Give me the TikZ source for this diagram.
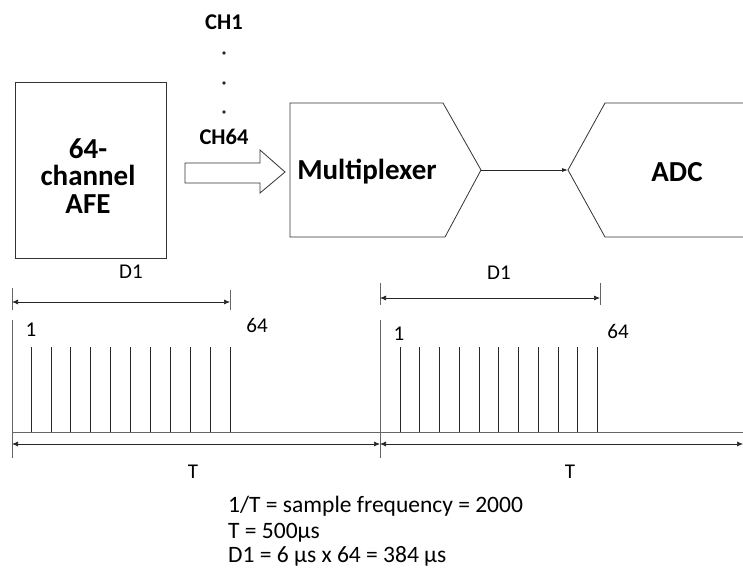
\documentclass[tikz,border=0pt]{standalone}
\usepackage{fontspec}
\setmainfont{Carlito}
\usetikzlibrary{arrows.meta, positioning, calc}

\begin{document}
\begin{tikzpicture}[
    x=1pt, y=-1pt,
    block/.style={draw=black!80, line width=0.8pt},
    blocktext/.style={font=\fontsize{29}{27.5}\selectfont\bfseries, align=center},
    chan/.style={font=\fontsize{22.5}{24}\selectfont\bfseries},
    lbl/.style={font=\fontsize{21}{24}\selectfont},
    note/.style={font=\fontsize{23.5}{24}\selectfont, anchor=base west, inner sep=0pt},
    pulse/.style={black!85, line width=0.8pt},
    axis/.style={gray!80!black, line width=1pt},
    dim/.style={{Latex[length=6pt,width=5pt]}-{Latex[length=6pt,width=5pt]}, black!85, line width=0.7pt},
    conn/.style={-{Latex[length=6pt,width=4pt]}, black!85, line width=0.8pt}
]
    \useasboundingbox (0,0) rectangle (743,576);
    \fill[white] (0,0) rectangle (743,576);

    % AFE block
    \node[block, minimum width=151pt, minimum height=176pt, inner sep=0pt] (afe) at (90.5,170) {};
    \node[blocktext] (afetext) at (88,176) {64-\\channel\\AFE};

    % Channel labels
    \node[chan] (ch1) at (224,22) {CH1};
    \foreach \y in {53,83,112}
        \fill[black!85] (224,\y) circle (1.8pt);
    \node[chan] (ch64) at (224,137) {CH64};

    % Hollow arrow AFE -> multiplexer
    \draw[block, fill=white] (185,163) -- (260,163) -- (260,150) -- (285,172)
        -- (260,193) -- (260,183) -- (185,183) -- cycle;

    % Multiplexer
    \draw[block] (290,103) -- (443,103) -- (481,170) -- (445,237) -- (290,237) -- cycle;
    \coordinate (muxout) at (481,170);
    \node[blocktext] (mux) at (367,172) {Multiplexer};

    % ADC
    \draw[block] (746,103) -- (605,103) -- (568,170) -- (605,237) -- (746,237);
    \coordinate (adcin) at (568,170);
    \node[blocktext] (adc) at (677,172) {ADC};

    % Multiplexer -> ADC
    \draw[conn] (muxout) -- (adcin);

    % Time axis and period borders
    \draw[axis] (12,320) -- (12,458);
    \draw[axis] (380,320) -- (380,458);
    \draw[axis] (12,432) -- (746,432);

    % Sample pulses
    \foreach \i in {0,...,10}
        \draw[pulse] ({31+19.9*\i},347) -- ({31+19.9*\i},432);
    \foreach \i in {0,...,10}
        \draw[pulse] ({400+19.75*\i},347) -- ({400+19.75*\i},432);

    % D1 ticks
    \draw[axis] (12,288) -- (12,310);
    \draw[axis] (230,290) -- (230,310);
    \draw[axis] (380,283) -- (380,305);
    \draw[axis] (600,283) -- (600,305);

    % D1 spans
    \coordinate (d1a) at (12,302);
    \coordinate (d1b) at (230,302);
    \coordinate (d2a) at (380,298);
    \coordinate (d2b) at (600,298);
    \draw[dim] (d1a) -- (d1b);
    \draw[dim] (d2a) -- (d2b);

    % T spans
    \coordinate (t1a) at (12,444);
    \coordinate (t1b) at (380,444);
    \coordinate (t2a) at (380,444);
    \coordinate (t2b) at (743,444);
    \draw[dim] (t1a) -- (t1b);
    \draw[dim] (t2a) -- (t2b);

    % Span labels
    \node[lbl] (d1l) at (131,272) {D1};
    \node[lbl] (d2l) at (499,273) {D1};
    \node[lbl] (s1a) at (31,330) {1};
    \node[lbl] (s1b) at (257,325) {64};
    \node[lbl] (s2a) at (399,334) {1};
    \node[lbl] (s2b) at (618,331) {64};
    \node[lbl] (t1l) at (193,472) {T};
    \node[lbl] (t2l) at (570,472) {T};

    % Notes
    \node[note] (n1) at (228,512) {1/T = sample frequency = 2000};
    \node[note] (n2) at (228,538) {T = 500µs};
    \node[note] (n3) at (228,562) {D1 = 6 µs x 64 = 384 µs};
\end{tikzpicture}
\end{document}
